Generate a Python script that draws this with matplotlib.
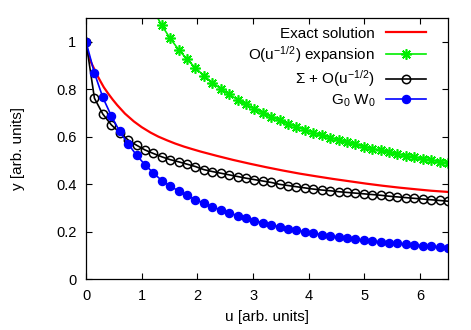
import numpy as np
import matplotlib
matplotlib.use('Agg')
import matplotlib.pyplot as plt

plt.rcParams['font.family'] = ['Liberation Sans', 'DejaVu Sans']
plt.rcParams['mathtext.default'] = 'regular'
plt.rcParams['font.size'] = 11

# u grid shared by the marker series (44 points from 0 to 6.5)
u = np.linspace(0, 6.5, 44)

# G0 W0 (blue, filled circles)
g0w0 = [1.0, 0.868, 0.765, 0.688, 0.622, 0.570, 0.522, 0.482, 0.447, 0.415,
        0.392, 0.371, 0.352, 0.335, 0.319, 0.305, 0.291, 0.279, 0.267, 0.256,
        0.246, 0.237, 0.228, 0.220, 0.212, 0.205, 0.199, 0.193, 0.187, 0.181,
        0.177, 0.172, 0.168, 0.164, 0.160, 0.156, 0.153, 0.150, 0.146, 0.143,
        0.141, 0.138, 0.135, 0.132]

# Sigma + O(u^-1/2) (black, open circles)
sigma = [1.0, 0.762, 0.695, 0.650, 0.617, 0.586, 0.564, 0.544, 0.529, 0.515,
         0.503, 0.494, 0.484, 0.474, 0.461, 0.453, 0.446, 0.439, 0.432, 0.425,
         0.419, 0.413, 0.407, 0.399, 0.394, 0.389, 0.384, 0.379, 0.375, 0.372,
         0.368, 0.365, 0.362, 0.359, 0.356, 0.353, 0.349, 0.346, 0.343, 0.340,
         0.337, 0.334, 0.331, 0.328]

# O(u^-1/2) expansion (green), from grid index 8 on
u_exp = u[8:]
expansion = [1.134, 1.069, 1.014, 0.967, 0.926, 0.890, 0.857, 0.828, 0.802,
             0.778, 0.756, 0.736, 0.717, 0.700, 0.684, 0.669, 0.655, 0.641,
             0.629, 0.617, 0.606, 0.596, 0.586, 0.576, 0.567, 0.558, 0.550,
             0.542, 0.535, 0.527, 0.520, 0.514, 0.507, 0.501, 0.495, 0.489]

# exact solution (red line)
u_exact = [0, 0.02, 0.05, 0.09, 0.14, 0.2, 0.26, 0.32, 0.4, 0.48, 0.56, 0.7,
           0.86, 1.0, 1.16, 1.3, 1.46, 1.6, 1.76, 1.9, 2.06, 2.35, 2.64,
           2.94, 3.24, 3.54, 3.84, 4.13, 4.43, 4.73, 5.03, 5.33, 5.63, 5.93,
           6.2, 6.5]
exact = [1.0, 0.965, 0.94, 0.913, 0.889, 0.859, 0.833, 0.808, 0.781, 0.756,
         0.733, 0.697, 0.664, 0.640, 0.617, 0.600, 0.584, 0.571, 0.558, 0.548,
         0.537, 0.519, 0.502, 0.486, 0.471, 0.457, 0.444, 0.433, 0.422,
         0.412, 0.402, 0.393, 0.385, 0.378, 0.372, 0.367]

fig = plt.figure(figsize=(4.71, 3.30), dpi=100)
ax = fig.add_axes([0.1826, 0.1545, 0.7684, 0.791])

ax.plot(u_exact, exact, color='#ff0000', lw=1.6, label='Exact solution')
ax.plot(u_exp, expansion, color='#00ee00', lw=1.2, marker=(8, 2, 0), ms=7.5,
        mew=1.2, label='O(u$^{-1/2}$) expansion')
ax.plot(u, sigma, color='black', lw=1.2, marker='o', ms=6, mfc='none',
        mew=1.1, label='Σ + O(u$^{-1/2}$)')
ax.plot(u, g0w0, color='#0000ff', lw=1.2, marker='o', ms=5.8, mec='#0000ff',
        label='G$_0$ W$_0$')

ax.set_xlim(0, 6.5)
ax.set_ylim(0, 1.1)
ax.set_xticks(range(7))
ax.set_yticks([0, 0.2, 0.4, 0.6, 0.8, 1])
ax.set_yticklabels(['0', '0.2', '0.4', '0.6', '0.8', '1'])
ax.tick_params(direction='in', top=True, right=True, length=4, width=0.8,
               labelsize=10.5, pad=7)
for s in ax.spines.values():
    s.set_linewidth(0.9)

ax.set_xlabel('u [arb. units]', fontsize=11, labelpad=5)
ax.set_ylabel('y [arb. units]', fontsize=11, labelpad=22)

ax.legend(loc='upper right', markerfirst=False, frameon=False, fontsize=11,
          handlelength=2.6, labelspacing=0.22, borderaxespad=0.0,
          handletextpad=0.7, bbox_to_anchor=(0.955, 0.99))

fig.savefig('out.png', dpi=100)
